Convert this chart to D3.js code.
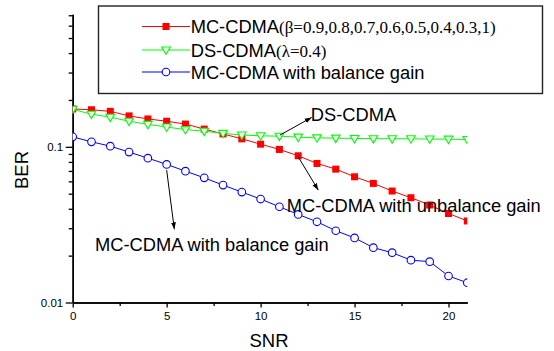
<!DOCTYPE html>
<html>
<head>
<meta charset="utf-8">
<script src="https://cdn.jsdelivr.net/npm/d3@7"></script>
<style>
  body { margin: 0; background: #fff; }
  svg { display: block; font-family: "Liberation Sans", Arial, sans-serif; }
</style>
</head>
<body>
<div id="chart"></div>
<script>
// SNR points 0..21
var snr = [0,1,2,3,4,5,6,7,8,9,10,11,12,13,14,15,16,17,18,19,20,21];
// MC-CDMA (beta), unbalanced gain
var mcBeta = [0.175,0.173,0.169,0.158,0.151,0.146,0.140,0.130,0.121,0.1125,0.104,0.0962,0.0876,0.0782,0.0719,0.0642,0.0582,0.052,0.0471,0.0423,0.0373,0.0334];
// DS-CDMA (lambda=0.4)
var dsLam = [0.174,0.162,0.155,0.146,0.1393,0.134,0.129,0.126,0.122,0.119,0.1177,0.117,0.1154,0.1142,0.1137,0.1132,0.1128,0.1128,0.1126,0.1122,0.1120,0.1115];
// MC-CDMA with balance gain
var mcBal = [0.1159,0.1077,0.101,0.0925,0.0846,0.0771,0.0698,0.0632,0.0568,0.0512,0.0462,0.0412,0.0368,0.033,0.0289,0.026,0.0225,0.0209,0.0187,0.0183,0.0148,0.0134];

var legendLabels = ["MC-CDMA", "DS-CDMA", "MC-CDMA with balance gain"];
var legendParams = ["(\u03b2=0.9,0.8,0.7,0.6,0.5,0.4,0.3,1)", "(\u03bb=0.4)", ""];

var yMajor = [0.01, 0.1];
var yMinor = [0.02,0.03,0.04,0.05,0.06,0.07,0.08,0.09,0.2,0.3,0.4,0.5,0.6,0.7];
var xMajor = [0,5,10,15,20];
var xMinor = [2.5,7.5,12.5,17.5];

// annotations in data units: text pos, arrow from -> to
var notes = [
  { text: "DS-CDMA", tx: 12.67, ty: 0.146, x1: 11.03, y1: 0.1189, x2: 12.72, y2: 0.1545 },
  { text: "MC-CDMA with unbalance gain", tx: 11.39, ty: 0.0383, x1: 12.0, y1: 0.0863, x2: 13.07, y2: 0.0527 },
  { text: "MC-CDMA with balance gain", tx: 1.19, ty: 0.0214, x1: 5.0, y1: 0.0709, x2: 5.41, y2: 0.0295 }
];

var width = 554, height = 351;
var plotL = 72.7, plotR = 467.3, plotT = 14.3, plotB = 302.5;

var svg = d3.select("#chart").append("svg")
  .attr("width", width)
  .attr("height", height);

var defs = svg.append("defs");
defs.append("clipPath").attr("id", "plotclip")
  .append("rect")
  .attr("x", plotL).attr("y", 0)
  .attr("width", plotR - plotL).attr("height", plotB);

defs.append("marker")
  .attr("id", "arrow")
  .attr("viewBox", "0 0 10 10")
  .attr("refX", 10).attr("refY", 5)
  .attr("markerWidth", 7).attr("markerHeight", 7)
  .attr("markerUnits", "userSpaceOnUse")
  .attr("orient", "auto")
  .append("path")
  .attr("d", "M0,1.5 L10,5 L0,8.5 Z")
  .attr("fill", "#000");

var x = d3.scaleLinear().domain([0, 21]).range([plotL, plotR]);
var y = d3.scaleLog().domain([0.01, 0.71]).range([plotB, plotT]);

// axes
var yAxisMaj = d3.axisLeft(y).tickValues(yMajor).tickSize(7).tickSizeOuter(0)
  .tickFormat(function (d) { return d === 0.1 ? "0.1" : "0.01"; });
var yAxisMin = d3.axisLeft(y).tickValues(yMinor).tickSize(4).tickSizeOuter(0).tickFormat("");
var xAxisMaj = d3.axisBottom(x).tickValues(xMajor).tickSize(5).tickSizeOuter(0).tickFormat(d3.format("d"));
var xAxisMin = d3.axisBottom(x).tickValues(xMinor).tickSize(3.5).tickSizeOuter(0).tickFormat("");

function styleAxis(g) {
  g.attr("font-size", null).attr("font-family", null);
  g.selectAll("path.domain").attr("stroke", "#000").attr("stroke-width", 1.5);
  g.selectAll(".tick line").attr("stroke", "#000").attr("stroke-width", 1.3);
  g.selectAll(".tick text").attr("fill", "#000")
    .style("font-family", "'Liberation Sans', Arial, sans-serif")
    .style("font-size", "11.5px");
}

svg.append("g").attr("transform", "translate(" + plotL + ",0)").call(yAxisMin).call(styleAxis);
svg.append("g").attr("transform", "translate(" + plotL + ",0)").call(yAxisMaj).call(styleAxis)
  .selectAll(".tick text").attr("x", -9.5).attr("dy", "0.35em");
svg.append("g").attr("transform", "translate(0," + plotB + ")").call(xAxisMin).call(styleAxis);
svg.append("g").attr("transform", "translate(0," + plotB + ")").call(xAxisMaj).call(styleAxis)
  .selectAll(".tick text").attr("y", 9.5);

// axis titles
svg.append("text")
  .attr("x", 269).attr("y", 346.5)
  .attr("text-anchor", "middle")
  .style("font-size", "18.5px")
  .text("SNR");
svg.append("text")
  .attr("transform", "translate(28.3,170) rotate(-90)")
  .attr("text-anchor", "middle")
  .style("font-size", "18.5px")
  .text("BER");

// series
var series = [
  { vals: mcBeta, color: "#ff0000", shape: "square" },
  { vals: dsLam, color: "#00ff00", shape: "tri" },
  { vals: mcBal, color: "#0000ff", shape: "circle" }
];

function drawMarker(g, shape, color) {
  if (shape === "square") {
    g.append("rect").attr("x", -3.5).attr("y", -3.5).attr("width", 7).attr("height", 7)
      .attr("fill", color);
  } else if (shape === "tri") {
    g.append("path").attr("d", "M-4.3,-3 L4.3,-3 L0,4.4 Z")
      .attr("fill", "#fff").attr("stroke", color).attr("stroke-width", 1.1);
  } else {
    g.append("circle").attr("r", 3.8)
      .attr("fill", "#fff").attr("stroke", color).attr("stroke-width", 1.1);
  }
}

var plot = svg.append("g").attr("clip-path", "url(#plotclip)");
var line = d3.line().x(function (d) { return x(d[0]); }).y(function (d) { return y(d[1]); });

series.forEach(function (s) {
  var pts = snr.map(function (v, i) { return [v, s.vals[i]]; });
  plot.append("path")
    .datum(pts)
    .attr("d", line)
    .attr("fill", "none")
    .attr("stroke", s.color)
    .attr("stroke-width", 1);
  pts.forEach(function (p) {
    var g = plot.append("g").attr("transform", "translate(" + x(p[0]) + "," + y(p[1]) + ")");
    drawMarker(g, s.shape, s.color);
  });
});

// annotations
notes.forEach(function (n) {
  svg.append("line")
    .attr("x1", x(n.x1)).attr("y1", y(n.y1))
    .attr("x2", x(n.x2)).attr("y2", y(n.y2))
    .attr("stroke", "#000").attr("stroke-width", 1)
    .attr("marker-end", "url(#arrow)");
  svg.append("text")
    .attr("x", x(n.tx)).attr("y", y(n.ty))
    .style("font-size", "18.3px")
    .attr("fill", "#000")
    .text(n.text);
});

// legend
var legend = svg.append("g");
legend.append("rect")
  .attr("x", 98.5).attr("y", 6)
  .attr("width", 444).attr("height", 87.5)
  .attr("fill", "#fff")
  .attr("stroke", "#222").attr("stroke-width", 1.4);

var rowY = [26.5, 50, 72];
series.forEach(function (s, i) {
  var ly = rowY[i];
  legend.append("line")
    .attr("x1", 142).attr("x2", 190)
    .attr("y1", ly).attr("y2", ly)
    .attr("stroke", s.color).attr("stroke-width", 1);
  drawMarker(legend.append("g").attr("transform", "translate(166," + ly + ")"), s.shape, s.color);
  var t = legend.append("text")
    .attr("x", 190.7).attr("y", ly + 6.6)
    .style("font-size", "18.3px");
  t.append("tspan").text(legendLabels[i]);
  if (legendParams[i]) {
    t.append("tspan")
      .style("font-family", "'Liberation Serif', 'Times New Roman', serif")
      .style("font-size", "17px")
      .text(legendParams[i]);
  }
});
</script>
</body>
</html>
